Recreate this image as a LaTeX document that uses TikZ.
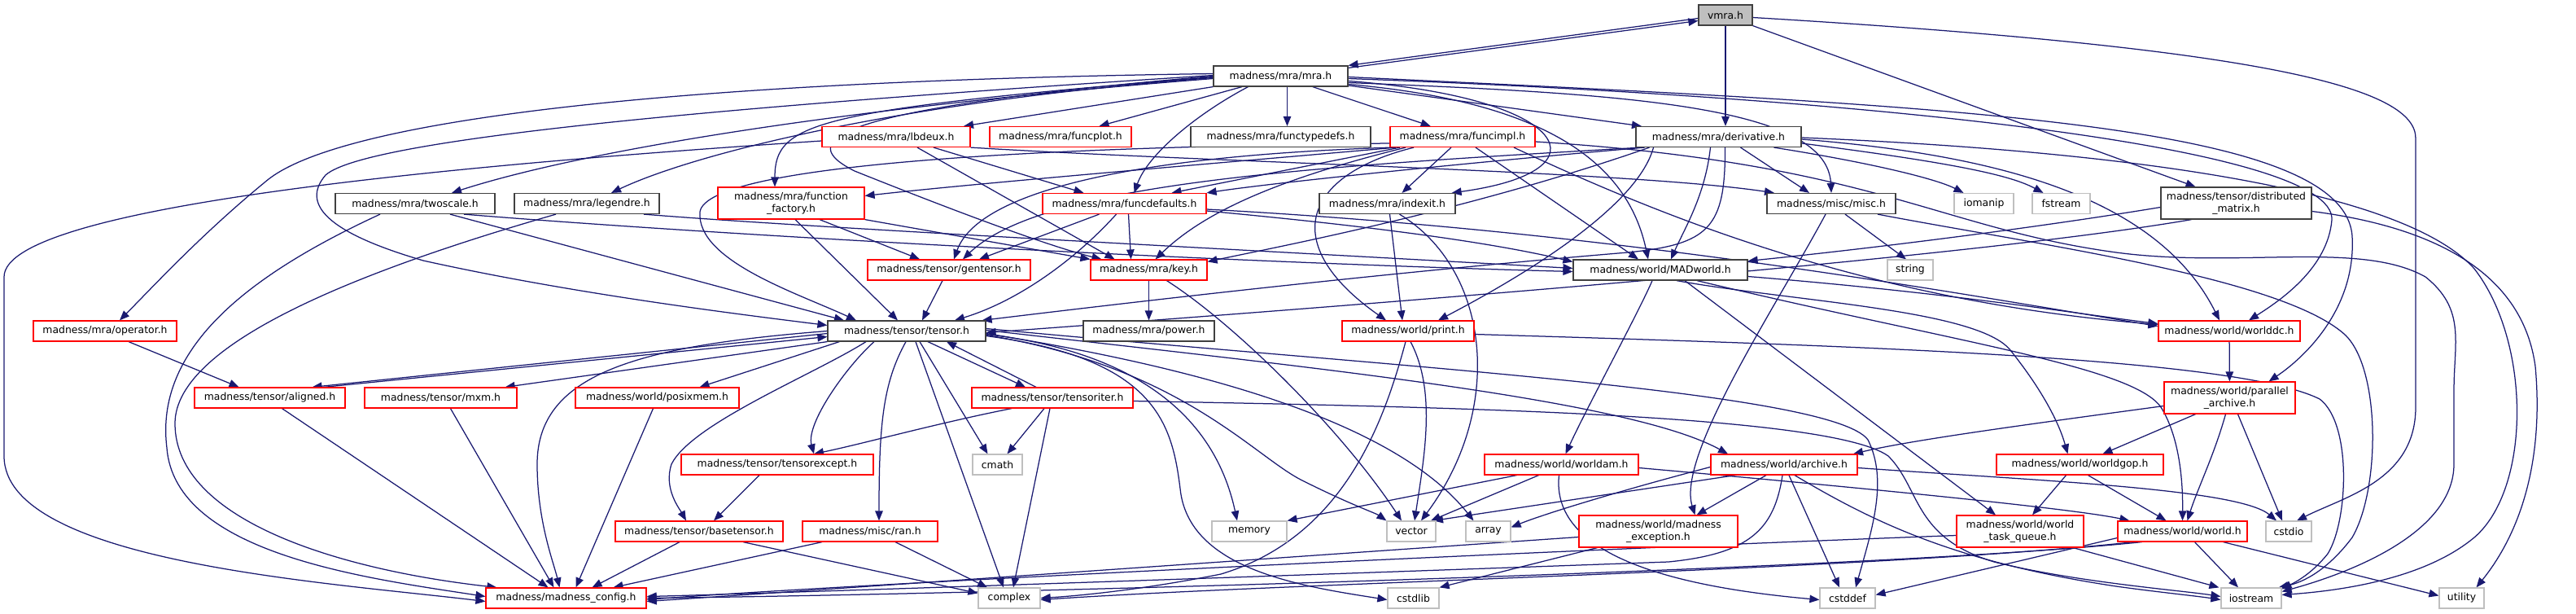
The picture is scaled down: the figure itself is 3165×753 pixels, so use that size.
\documentclass[tikz,border=0pt]{standalone}
\usepackage{fontspec}
\setmainfont{DejaVu Sans}
\usetikzlibrary{arrows.meta}
\definecolor{edgecol}{HTML}{191970}
\definecolor{boxgray}{HTML}{404040}
\definecolor{sysgray}{HTML}{BFBFBF}
\newcommand\nfont{\fontsize{12.4}{15.5}\selectfont}
\pgfdeclarelayer{bg}
\pgfsetlayers{bg,main}
\tikzset{
 base/.style={rectangle, inner sep=0pt, minimum height=25pt, line width=1.2pt, fill=white, font=\nfont, align=center},
 bk/.style={base, draw=boxgray},
 rd/.style={base, draw=red},
 gy/.style={base, draw=sysgray},
 tall/.style={minimum height=39pt},
 e/.style={draw=edgecol, line width=1.25pt, -{Triangle[length=12pt,width=9.5pt]}},
}
\begin{document}
\begin{tikzpicture}[x=1pt,y=-1pt]
\useasboundingbox (0,0) rectangle (3165,753);
% row 0-1
\node[bk, fill=sysgray, minimum width=66pt] (vmra) at (2120,18.5) {vmra.h};
\node[bk, minimum width=165pt] (mra) at (1573.5,93.5) {madness/mra/mra.h};
% row 2
\node[rd, minimum width=182pt] (lbdeux) at (1101,168) {madness/mra/lbdeux.h};
\node[rd, minimum width=174pt] (funcplot) at (1303,168) {madness/mra/funcplot.h};
\node[bk, minimum width=221pt] (functypedefs) at (1573.5,168) {madness/mra/functypedefs.h};
\node[rd, minimum width=178pt] (funcimpl) at (1797,168) {madness/mra/funcimpl.h};
\node[bk, minimum width=203pt] (derivative) at (2111.5,168) {madness/mra/derivative.h};
% row 3
\node[bk, minimum width=196pt] (twoscale) at (510,250) {madness/mra/twoscale.h};
\node[bk, minimum width=178pt] (legendre) at (721,250) {madness/mra/legendre.h};
\node[rd, tall, minimum width=180pt] (ff) at (972,249.5) {madness/mra/function\\\_factory.h};
\node[rd, minimum width=201pt] (funcdefaults) at (1381.5,250) {madness/mra/funcdefaults.h};
\node[bk, minimum width=167pt] (indexit) at (1704.5,250) {madness/mra/indexit.h};
\node[bk, minimum width=158pt] (misc) at (2250,250) {madness/misc/misc.h};
\node[gy, minimum width=73pt] (iomanip) at (2437.5,250) {iomanip};
\node[gy, minimum width=71pt] (fstream) at (2532.5,250) {fstream};
\node[bk, tall, minimum width=185pt] (distmatrix) at (2747.5,249.5) {madness/tensor/distributed\\\_matrix.h};
% row 4
\node[rd, minimum width=200pt] (gentensor) at (1166,331.5) {madness/tensor/gentensor.h};
\node[rd, minimum width=143pt] (key) at (1411.5,331.5) {madness/mra/key.h};
\node[bk, minimum width=214pt] (MADworld) at (2040,331.5) {madness/world/MADworld.h};
\node[gy, minimum width=56pt] (string) at (2347,331.5) {string};
% row 5
\node[rd, minimum width=176pt] (operator) at (129,406.5) {madness/mra/operator.h};
\node[bk, minimum width=194pt] (tensor) at (1114,406.5) {madness/tensor/tensor.h};
\node[bk, minimum width=161pt] (power) at (1411.5,406.5) {madness/mra/power.h};
\node[rd, minimum width=162pt] (print) at (1730,406.5) {madness/world/print.h};
\node[rd, minimum width=174pt] (worlddc) at (2739,406.5) {madness/world/worlddc.h};
\node[rd, tall, minimum width=161pt] (parallel) at (2739.5,488.5) {madness/world/parallel\\\_archive.h};
% row 6
\node[rd, minimum width=185pt] (aligned) at (331.5,488.5) {madness/tensor/aligned.h};
\node[rd, minimum width=187pt] (mxm) at (541.5,488.5) {madness/tensor/mxm.h};
\node[rd, minimum width=201pt] (posixmem) at (807.5,488.5) {madness/world/posixmem.h};
\node[rd, minimum width=198pt] (tensoriter) at (1293,488.5) {madness/tensor/tensoriter.h};
% row 7
\node[rd, minimum width=236pt] (tensorexcept) at (955,570.5) {madness/tensor/tensorexcept.h};
\node[gy, minimum width=61pt] (cmath) at (1225.5,570.5) {cmath};
\node[rd, minimum width=189pt] (worldam) at (1918.5,570.5) {madness/world/worldam.h};
\node[rd, minimum width=180pt] (archive) at (2192,570.5) {madness/world/archive.h};
\node[rd, minimum width=205pt] (worldgop) at (2555.5,570.5) {madness/world/worldgop.h};
% row 8
\node[rd, minimum width=206pt] (basetensor) at (859,652.5) {madness/tensor/basetensor.h};
\node[rd, minimum width=166pt] (ran) at (1069,652.5) {madness/misc/ran.h};
\node[gy, minimum width=92pt] (memory) at (1535,652.5) {memory};
\node[gy, minimum width=60pt] (vector) at (1734,652.5) {vector};
\node[gy, minimum width=55pt] (array) at (1828.5,652.5) {array};
\node[rd, tall, minimum width=195pt] (madexc) at (2037.5,652.5) {madness/world/madness\\\_exception.h};
\node[rd, tall, minimum width=156pt] (taskq) at (2482,652.5) {madness/world/world\\\_task\_queue.h};
\node[rd, minimum width=159pt] (world) at (2681.5,652.5) {madness/world/world.h};
\node[gy, minimum width=56pt] (cstdio) at (2812,652.5) {cstdio};
% row 9
\node[rd, minimum width=197pt] (config) at (695.5,734.5) {madness/madness\_config.h};
\node[gy, minimum width=76pt] (complex) at (1240,734.5) {complex};
\node[gy, minimum width=63pt] (cstdlib) at (1736.5,734.5) {cstdlib};
\node[gy, minimum width=68pt] (cstddef) at (2270,734.5) {cstddef};
\node[gy, minimum width=74pt] (iostream) at (2766,734.5) {iostream};
\node[gy, minimum width=55pt] (utility) at (3024.5,734.5) {utility};

\begin{pgfonlayer}{bg}
% vmra
\draw[e] ([yshift=-3pt]mra.north east) -- ([yshift=-7pt]vmra.west);
\draw[e] ([yshift=-4pt]vmra.west) -- (mra.north east);
\draw[e] (vmra.south) -- ([xshift=8.5pt]derivative.north);
\draw[e] (vmra.south east) -- ([xshift=-50pt]distmatrix.north);
\draw[e] ([yshift=-3pt]vmra.east) .. controls (2800,60) and (2968,110) .. (2968,170) -- (2968,500) .. controls (2968,590) and (2880,610) .. ([xshift=10pt]cstdio.north);
% mra
\draw[e] (mra) -- (lbdeux);
\draw[e] (mra) -- (funcplot);
\draw[e] ([xshift=8pt]mra.south) -- ([xshift=8pt]functypedefs.north);
\draw[e] (mra) -- (funcimpl);
\draw[e] (mra) -- (derivative);
\draw[e] ([yshift=-3pt]mra.west) .. controls (1000,135) and (700,190) .. ([xshift=45pt]twoscale.north);
\draw[e] ([yshift=-2pt]mra.west) .. controls (1100,125) and (850,190) .. ([xshift=30pt]legendre.north);
\draw[e] ([yshift=-1pt]mra.west) .. controls (1000,135) and (952,150) .. ([xshift=-20pt]ff.north);
\draw[e] ([yshift=3pt]mra.west) .. controls (800,100) and (420,150) .. (330,220) .. controls (250,285) and (190,350) .. ([xshift=18pt]operator.north);
\draw[e] ([yshift=1pt]mra.west) .. controls (900,130) and (450,170) .. (400,215) .. controls (370,250) and (400,285) .. (520,320) .. controls (700,360) and (900,385) .. ([yshift=7pt]tensor.west);
\draw[e] (mra.west) .. controls (1000,135) and (980,175) .. (1050,210) .. controls (1150,250) and (1280,300) .. ([xshift=-58pt]key.north);
\draw[e] ([xshift=-40pt]mra.south) .. controls (1470,140) and (1410,190) .. ([xshift=12pt]funcdefaults.north);
\draw[e] ([yshift=-6pt]mra.east) .. controls (1930,120) and (1980,210) .. ([xshift=-5pt]indexit.north east);
\draw[e] ([yshift=-8pt]mra.east) .. controls (2000,115) and (2245,130) .. (misc.north);
\draw[e] ([yshift=-10pt]mra.east) .. controls (1900,125) and (2000,200) .. ([xshift=-15pt]MADworld.north);
\draw[e] ([yshift=-3pt]mra.east) .. controls (2300,120) and (2870,180) .. (2865,270) .. controls (2860,330) and (2800,370) .. ([xshift=24pt]worlddc.north);
\draw[e] ([yshift=-1pt]mra.east) .. controls (2400,130) and (2880,150) .. (2890,290) .. controls (2895,380) and (2830,440) .. ([xshift=48pt]parallel.north);
% lbdeux
\draw[e] ([yshift=-5pt]lbdeux.west) .. controls (600,200) and (5,250) .. (5,340) -- (5,560) .. controls (5,690) and (400,715) .. ([yshift=-4pt]config.west);
\draw[e] ([xshift=26pt]lbdeux.south) -- ([xshift=-42pt]key.north);
\draw[e] ([xshift=46pt]lbdeux.south) -- ([xshift=-50pt]funcdefaults.north);
\draw[e] (lbdeux.south east) .. controls (1500,200) and (2000,210) .. ([xshift=-70pt]misc.north);
% twoscale, legendre
\draw[e] ([xshift=-43pt]twoscale.south) .. controls (300,340) and (190,430) .. (205,550) .. controls (215,680) and (450,710) .. ([yshift=2pt]config.west);
\draw[e] ([xshift=-38pt]legendre.south) .. controls (450,330) and (215,420) .. (215,520) .. controls (215,640) and (420,700) .. ([xshift=14pt]config.north west);
\draw[e] ([xshift=43pt]twoscale.south) -- ([xshift=-77pt]tensor.north);
\draw[e] ([xshift=60pt]twoscale.south) .. controls (900,290) and (1500,322) .. ([yshift=-2pt]MADworld.west);
\draw[e] ([xshift=70pt]legendre.south) .. controls (1000,280) and (1500,305) .. ([yshift=2pt]MADworld.west);
% function_factory
\draw[e] ([xshift=5pt]ff.south) -- ([xshift=-11pt]tensor.north);
\draw[e] ([xshift=35pt]ff.south) -- ([xshift=-36pt]gentensor.north);
\draw[e] (ff.south east) -- (key.north west);
% funcimpl
\draw[e] ([xshift=-82pt]funcimpl.south) .. controls (1500,200) and (1200,225) .. ([yshift=9pt]ff.east);
\draw[e] ([xshift=-77pt]funcimpl.south) -- ([xshift=58pt]funcdefaults.north);
\draw[e] ([xshift=-87pt]funcimpl.south) .. controls (1370,192) and (1200,240) .. ([xshift=6pt]gentensor.north);
\draw[e] ([xshift=-70pt]funcimpl.south) .. controls (1570,220) and (1480,260) .. ([xshift=8pt]key.north);
\draw[e] ([yshift=-8pt]funcimpl.west) .. controls (1300,180) and (870,200) .. (860,260) .. controls (855,320) and (980,360) .. ([xshift=-62pt]tensor.north);
\draw[e] ([xshift=-14pt]funcimpl.south) -- ([xshift=18pt]indexit.north);
\draw[e] ([xshift=16pt]funcimpl.south) -- ([xshift=-27pt]MADworld.north);
\draw[e] ([xshift=-60pt]funcimpl.south) .. controls (1600,215) and (1570,300) .. ([xshift=-27pt]print.north);
\draw[e] ([xshift=63pt]funcimpl.south) .. controls (2050,270) and (2300,370) .. ([yshift=8pt]worlddc.west);
\draw[e] ([yshift=-6pt]funcimpl.east) .. controls (2300,200) and (2380,280) .. (2600,310) .. controls (2750,330) and (2900,295) .. (2980,340) .. controls (3030,380) and (3015,420) .. (3015,480) -- (3015,570) .. controls (3015,650) and (2900,700) .. ([yshift=8pt]iostream.east);
% derivative
\draw[e] ([xshift=-91pt]derivative.south) .. controls (1800,200) and (1560,225) .. (funcdefaults.north east);
\draw[e] ([xshift=-95pt]derivative.south) .. controls (1600,205) and (1280,225) .. ([xshift=17pt]gentensor.north);
\draw[e] ([xshift=-85pt]derivative.south) .. controls (1800,260) and (1560,305) .. ([yshift=-3pt]key.north east);
\draw[e] ([xshift=-10pt]derivative.south) .. controls (2095,240) and (2070,280) .. ([xshift=13pt]MADworld.north);
\draw[e] ([xshift=8pt]derivative.south) .. controls (2120,280) and (2100,300) .. (2000,310) .. controls (1700,335) and (1400,370) .. ([xshift=-5pt]tensor.north east);
\draw[e] ([xshift=-80pt]derivative.south) .. controls (2010,260) and (1850,350) .. ([xshift=37pt]print.north);
\draw[e] ([xshift=27pt]derivative.south) -- ([xshift=-27pt]misc.north);
\draw[e] ([xshift=68pt]derivative.south) .. controls (2300,200) and (2380,220) .. ([xshift=-25pt]iomanip.north);
\draw[e] ([yshift=-8pt]derivative.east) .. controls (2400,200) and (2470,215) .. ([xshift=-22pt]fstream.north);
\draw[e] ([yshift=-3pt]derivative.east) .. controls (2450,190) and (2650,240) .. ([xshift=-12pt]worlddc.north);
\draw[e] ([yshift=-1pt]derivative.east) .. controls (2600,185) and (2950,230) .. (3040,330) .. controls (3110,420) and (3110,600) .. (3040,660) .. controls (2980,710) and (2880,725) .. ([yshift=4pt]iostream.east);
% misc
\draw[e] ([xshift=17pt]misc.south) -- ([xshift=-5pt]string.north);
\draw[e] ([xshift=-7pt]misc.south) .. controls (2180,380) and (2060,560) .. ([xshift=45pt]madexc.north);
\draw[e] ([xshift=57pt]misc.south) .. controls (2500,300) and (2800,340) .. (2880,410) .. controls (2925,450) and (2925,600) .. (2890,660) .. controls (2860,700) and (2830,715) .. ([xshift=-4pt]iostream.north east);
% distributed_matrix
\draw[e] ([yshift=-5pt]distmatrix.west) .. controls (2500,280) and (2300,305) .. ([yshift=11pt]MADworld.east);
\draw[e] ([xshift=-55pt]distmatrix.south) .. controls (2400,320) and (1600,380) .. ([yshift=-2pt]tensor.east);
\draw[e] ([yshift=-10pt]distmatrix.east) .. controls (3000,280) and (3100,340) .. (3115,450) .. controls (3125,560) and (3100,650) .. ([xshift=18pt]utility.north);
% funcdefaults
\draw[e] ([xshift=-8pt]gentensor.south) -- ([xshift=19pt]tensor.north);
\draw[e] ([xshift=-31pt]funcdefaults.south) -- ([xshift=37pt]gentensor.north);
\draw[e] ([xshift=5pt]funcdefaults.south) -- ([xshift=-22pt]key.north);
\draw[e] ([xshift=-10pt]funcdefaults.south) .. controls (1320,320) and (1250,370) .. ([xshift=59pt]tensor.north);
\draw[e] ([yshift=-9pt]funcdefaults.east) .. controls (1600,270) and (1800,290) .. ([yshift=10pt]MADworld.west);
\draw[e] ([yshift=-7pt]funcdefaults.east) .. controls (2000,285) and (2400,360) .. ([yshift=6pt]worlddc.west);
% MADworld
\draw[e] ([yshift=-8pt]MADworld.east) .. controls (2400,360) and (2550,385) .. ([yshift=9pt]worlddc.west);
\draw[e] ([xshift=-10pt]MADworld.south) .. controls (2015,380) and (1950,500) .. ([xshift=5pt]worldam.north);
\draw[e] ([xshift=20pt]MADworld.south) .. controls (2200,370) and (2430,380) .. (2470,430) .. controls (2510,480) and (2530,520) .. ([xshift=-15pt]worldgop.north);
\draw[e] ([xshift=30pt]MADworld.south) -- ([xshift=-30pt]taskq.north);
\draw[e] ([xshift=45pt]MADworld.south) .. controls (2400,420) and (2620,450) .. (2655,500) .. controls (2680,540) and (2682,600) .. (world.north);
% worlddc, parallel
\draw[e] (worlddc) -- (parallel);
\draw[e] ([yshift=-10pt]parallel.west) .. controls (2500,520) and (2350,540) .. ([xshift=85pt]archive.north);
\draw[e] ([xshift=-42pt]parallel.south) -- ([xshift=28pt]worldgop.north);
\draw[e] ([xshift=-5pt]parallel.south) .. controls (2720,560) and (2700,600) .. ([xshift=6pt]world.north);
\draw[e] ([xshift=10pt]parallel.south) -- ([xshift=-8pt]cstdio.north);
% worldgop, taskq, world
\draw[e] ([xshift=-17pt]worldgop.south) -- ([xshift=15pt]taskq.north);
\draw[e] ([xshift=10pt]worldgop.south) -- ([xshift=-20pt]world.north);
\draw[e] ([yshift=-5pt]taskq.west) .. controls (1800,680) and (1000,720) .. ([yshift=-2pt]config.east);
\draw[e] ([xshift=65pt]taskq.south) -- ([xshift=-2pt]iostream.north west);
\draw[e] ([xshift=-50pt]world.south) .. controls (2300,700) and (1200,730) .. (config.east);
\draw[e] ([xshift=-60pt]world.south) .. controls (2300,700) and (1600,715) .. ([yshift=-2pt]complex.east);
\draw[e] ([yshift=-8pt]world.west) -- ([yshift=4pt]cstddef.east);
\draw[e] ([xshift=15pt]world.south) -- ([xshift=-16pt]iostream.north);
\draw[e] ([xshift=50pt]world.south) -- ([yshift=3pt]utility.west);
% worldam
\draw[e] ([xshift=-55pt]worldam.south) -- (memory.north east);
\draw[e] ([xshift=-28pt]worldam.south) -- ([xshift=24pt]vector.north);
\draw[e] ([xshift=-3pt]worldam.south) .. controls (1905,680) and (2050,720) .. ([yshift=-2pt]cstddef.west);
\draw[e] ([yshift=-4pt]worldam.east) .. controls (2300,600) and (2550,625) .. ([xshift=15pt]world.north west);
% archive
\draw[e] ([xshift=-22pt]archive.south) -- ([xshift=47pt]madexc.north);
\draw[e] ([xshift=-60pt]archive.south) -- ([xshift=27pt]vector.north);
\draw[e] ([yshift=-3pt]archive.west) .. controls (2000,600) and (1900,630) .. ([yshift=5pt]array.east);
\draw[e] ([xshift=6pt]archive.south) -- ([xshift=-10pt]cstddef.north);
\draw[e] ([xshift=-2pt]archive.south) .. controls (2180,650) and (2150,680) .. (2050,690) .. controls (1500,710) and (900,730) .. ([yshift=2pt]config.east);
\draw[e] ([xshift=13pt]archive.south) .. controls (2300,640) and (2400,690) .. (2600,720) .. controls (2650,727) and (2700,732) .. ([yshift=-2pt]iostream.west);
\draw[e] ([yshift=-4pt]archive.east) .. controls (2500,590) and (2750,600) .. ([xshift=-15pt]cstdio.north);
% madness_exception
\draw[e] ([yshift=-7pt]madexc.west) .. controls (1500,690) and (1000,725) .. ([yshift=-4pt]config.east);
\draw[e] ([xshift=-75pt]madexc.south) -- (cstdlib.north east);
% print, indexit, key
\draw[e] ([xshift=3pt]print.south) .. controls (1765,480) and (1750,560) .. ([xshift=4pt]vector.north);
\draw[e] ([xshift=-3pt]print.south) .. controls (1700,520) and (1650,660) .. (1500,705) .. controls (1400,725) and (1320,732) .. (complex.east);
\draw[e] ([yshift=-4pt]print.east) .. controls (2300,425) and (2750,440) .. (2850,490) .. controls (2890,520) and (2885,640) .. (2860,680) .. controls (2840,705) and (2820,715) .. ([yshift=-2pt]iostream.north east);
\draw[e] ([xshift=3pt]indexit.south) -- ([xshift=-7pt]print.north);
\draw[e] ([xshift=15pt]indexit.south) .. controls (1830,330) and (1850,500) .. ([xshift=12pt]vector.north);
\draw[e] (key) -- (power);
\draw[e] ([xshift=22pt]key.south) .. controls (1520,400) and (1650,530) .. ([xshift=-12pt]vector.north);
% tensor
\draw[e] ([yshift=-3pt]tensor.west) -- ([xshift=52pt]aligned.north);
\draw[e] ([xshift=66pt]aligned.north) -- ([yshift=-7pt]tensor.west);
\draw[e] (tensor.south west) -- ([xshift=-15pt]mxm.north east);
\draw[e] ([xshift=15pt]tensor.south west) -- ([xshift=52pt]posixmem.north);
\draw[e] ([xshift=-50pt]tensor.south) .. controls (1000,460) and (850,520) .. (825,570) .. controls (815,600) and (835,625) .. ([xshift=-16pt]basetensor.north);
\draw[e] ([xshift=-40pt]tensor.south) .. controls (1040,450) and (990,520) .. ([xshift=45pt]tensorexcept.north);
\draw[e] (tensor.west) .. controls (780,425) and (660,460) .. (660,570) .. controls (660,640) and (680,690) .. ([xshift=-8pt]config.north);
\draw[e] ([xshift=-1pt]tensor.south) .. controls (1085,470) and (1080,520) .. ([xshift=11pt]ran.north);
\draw[e] ([xshift=11pt]tensor.south) -- ([xshift=-7pt]complex.north);
\draw[e] ([xshift=16pt]tensor.south) -- ([xshift=-12pt]cmath.north);
\draw[e] ([xshift=26pt]tensor.south) -- ([xshift=-33pt]tensoriter.north);
\draw[e] ([xshift=-20pt]tensoriter.north) -- ([xshift=49pt]tensor.south);
\draw[e] ([yshift=-4pt]tensor.east) .. controls (1380,430) and (1490,500) .. ([xshift=-15pt]memory.north);
\draw[e] ([yshift=-6pt]tensor.east) .. controls (1420,440) and (1440,520) .. (1450,600) .. controls (1460,700) and (1600,720) .. ([yshift=-2pt]cstdlib.west);
\draw[e] ([yshift=-5pt]tensor.east) .. controls (1450,450) and (1540,560) .. (1600,590) .. controls (1660,620) and (1690,630) .. (vector.north west);
\draw[e] ([yshift=-3pt]tensor.east) .. controls (1400,440) and (1700,500) .. ([xshift=-18pt]array.north);
\draw[e] ([yshift=1pt]tensor.east) .. controls (1600,450) and (2000,490) .. ([xshift=-69pt]archive.north);
\draw[e] ([yshift=3pt]tensor.east) .. controls (1700,450) and (2250,480) .. (2295,540) .. controls (2320,590) and (2300,650) .. ([xshift=10pt]cstddef.north);
% tensoriter
\draw[e] ([yshift=-4pt]tensoriter.east) .. controls (1800,500) and (2250,510) .. (2320,560) .. controls (2360,600) and (2350,660) .. (2450,690) .. controls (2550,715) and (2680,725) .. ([yshift=2pt]iostream.west);
\draw[e] ([xshift=-50pt]tensoriter.south) .. controls (1150,520) and (1060,545) .. ([xshift=45pt]tensorexcept.north);
\draw[e] ([xshift=-10pt]tensoriter.south) -- ([xshift=12pt]cmath.north);
\draw[e] ([xshift=-3pt]tensoriter.south) -- ([xshift=5pt]complex.north);
% lower
\draw[e] ([xshift=-22pt]tensorexcept.south) -- ([xshift=18pt]basetensor.north);
\draw[e] ([xshift=-24pt]basetensor.south) -- ([xshift=32pt]config.north);
\draw[e] ([xshift=54pt]basetensor.south) -- ([yshift=6pt]complex.west);
\draw[e] ([xshift=-59pt]ran.south) -- ([xshift=58pt]config.north);
\draw[e] ([xshift=31pt]ran.south) -- ([xshift=-27pt]complex.north);
\draw[e] ([xshift=12pt]mxm.south) -- ([xshift=-15pt]config.north);
\draw[e] ([xshift=-5pt]posixmem.south) -- ([xshift=12pt]config.north);
\draw[e] ([xshift=15pt]aligned.south) -- ([xshift=-22pt]config.north);
\draw[e] ([xshift=29pt]operator.south) -- ([xshift=-38pt]aligned.north);
\end{pgfonlayer}
\end{tikzpicture}
\end{document}
